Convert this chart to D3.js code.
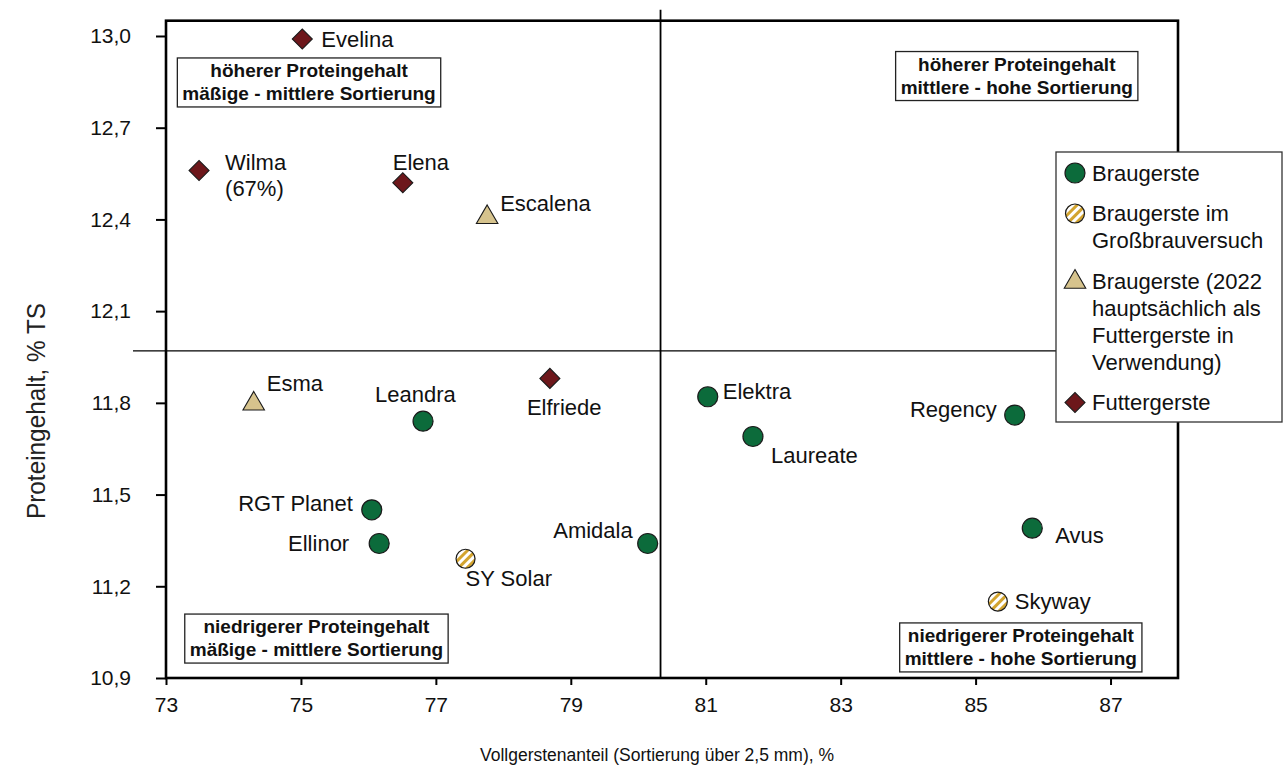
<!DOCTYPE html>
<html><head><meta charset="utf-8">
<script src="https://cdn.jsdelivr.net/npm/d3@7"></script>
<style>
body{margin:0;background:#fff}
svg{display:block;font-family:"Liberation Sans",Arial,Helvetica,sans-serif}
</style>
</head><body>
<svg id="chart" width="1283" height="767"></svg>
<script>
// ---------------- DATA ----------------
const varieties = ["Evelina","Wilma","Elena","Escalena","Esma","Elfriede","Leandra","RGT Planet","Ellinor","SY Solar","Amidala","Elektra","Laureate","Regency","Avus","Skyway"];
const sortierung = [75.02, 73.49, 76.51, 77.76, 74.30, 78.69, 76.81, 76.05, 76.16, 77.44, 80.14, 81.03, 81.70, 85.58, 85.84, 85.33];
const protein    = [12.99, 12.56, 12.52, 12.41, 11.80, 11.88, 11.74, 11.45, 11.34, 11.29, 11.34, 11.82, 11.69, 11.76, 11.39, 11.15];
const groups     = ["futter","futter","futter","brau2022","brau2022","futter","brau","brau","brau","gross","brau","brau","brau","brau","brau","gross"];
const labelLines = {"Wilma":["Wilma","(67%)"]};
const xTicks = [73, 75, 77, 79, 81, 83, 85, 87];
const yTicks = [10.9, 11.2, 11.5, 11.8, 12.1, 12.4, 12.7, 13.0];
const meanSortierung = 80.33;
const meanProtein = 11.97;
const legendGroups = ["brau","gross","brau2022","futter"];
const legendTexts = [["Braugerste"],["Braugerste im","Großbrauversuch"],["Braugerste (2022","hauptsächlich als","Futtergerste in","Verwendung)"],["Futtergerste"]];
const quadrantTexts = [["höherer Proteingehalt","mäßige - mittlere Sortierung"],["höherer Proteingehalt","mittlere - hohe Sortierung"],["niedrigerer Proteingehalt","mäßige - mittlere Sortierung"],["niedrigerer Proteingehalt","mittlere - hohe Sortierung"]];
const quadrantX = [75.12, 85.61, 75.23, 85.67];
const quadrantY = [12.848, 12.869, 11.029, 11.0];
const xTitle = "Vollgerstenanteil (Sortierung über 2,5 mm), %";
const yTitle = "Proteingehalt, % TS";

// ---------------- LAYOUT / STYLE ----------------
// label offsets (pixels relative to marker): [dx, dy, anchor]
const labelOffsets = {
  "Evelina":[19,0,"start"], "Wilma":[26,-8,"start"], "Elena":[-10,-20,"start"],
  "Escalena":[13,-13,"start"], "Esma":[13,-20,"start"], "Elfriede":[-23,29,"start"],
  "Leandra":[-48,-27,"start"], "RGT Planet":[-19,-7,"end"], "Ellinor":[-30,0,"end"],
  "SY Solar":[0,20,"start"], "Amidala":[-15,-13,"end"], "Elektra":[15,-5,"start"],
  "Laureate":[18,19,"start"], "Regency":[-18,-6,"end"], "Avus":[23,7,"start"],
  "Skyway":[17,0,"start"]
};
const colors = {brau:"#0c6b3b", gold:"#d3a42e", tan:"#d6c38d", futter:"#6d171b", stroke:"#1a1a1a"};

const svg = d3.select("#chart");
const x = d3.scaleLinear().domain([73, 88]).range([166, 1178]);
const y = d3.scaleLinear().domain([10.9, 13.05]).range([678, 20.7]);

// hatch pattern
const defs = svg.append("defs");
const pat = defs.append("pattern").attr("id","hatch").attr("patternUnits","userSpaceOnUse")
  .attr("width",6).attr("height",6).attr("patternTransform","rotate(45)");
pat.append("rect").attr("width",6).attr("height",6).attr("fill","#fff");
pat.append("rect").attr("x",0).attr("width",3).attr("height",6).attr("fill",colors.gold);

// mean lines
svg.append("line").attr("x1",x(meanSortierung)).attr("x2",x(meanSortierung))
  .attr("y1",y.range()[1]-11).attr("y2",y.range()[0]).attr("stroke","#000").attr("stroke-width",1.8);
svg.append("line").attr("x1",x.range()[0]-33).attr("x2",x.range()[1])
  .attr("y1",y(meanProtein)).attr("y2",y(meanProtein)).attr("stroke","#000").attr("stroke-width",1.1);

// axes
const fmt = d => d.toFixed(1).replace(".", ",");
const gx = svg.append("g").attr("transform",`translate(0,${y.range()[0]})`)
  .call(d3.axisBottom(x).tickValues(xTicks).tickSize(7).tickPadding(12).tickFormat(d3.format("d")));
const gy = svg.append("g").attr("transform",`translate(${x.range()[0]},0)`)
  .call(d3.axisLeft(y).tickValues(yTicks).tickSize(10).tickPadding(25).tickFormat(fmt));
[gx, gy].forEach(g => {
  g.select(".domain").remove();
  g.selectAll(".tick line").attr("stroke","#000").attr("stroke-width",2);
  g.selectAll(".tick text").attr("fill","#111").style("font-size","21px").style("font-family","'Liberation Sans',Arial,sans-serif");
});

// frame
svg.append("rect").attr("x",x.range()[0]).attr("y",y.range()[1])
  .attr("width",x.range()[1]-x.range()[0]).attr("height",y.range()[0]-y.range()[1])
  .attr("fill","none").attr("stroke","#000").attr("stroke-width",2.6);

// quadrant boxes
quadrantTexts.forEach((lines,i) => {
  const g = svg.append("g").attr("transform",`translate(${x(quadrantX[i])},${y(quadrantY[i])})`);
  const rect = g.append("rect");
  const texts = lines.map((t,j) => g.append("text").attr("x",0).attr("y",-24.5+19+j*23)
    .attr("text-anchor","middle").attr("font-weight","bold").style("font-size","19px").attr("fill","#111").text(t));
  const w = d3.max(texts, t => t.node().getComputedTextLength()) + 10;
  rect.attr("x",-w/2).attr("y",-24.5).attr("width",w).attr("height",49)
    .attr("fill","#fff").attr("stroke","#222").attr("stroke-width",1.3);
});

// markers
function drawMarker(g, grp) {
  if (grp === "brau") g.append("circle").attr("r",10).attr("fill",colors.brau).attr("stroke",colors.stroke).attr("stroke-width",1.2);
  else if (grp === "gross") g.append("circle").attr("r",9.5).attr("fill","url(#hatch)").attr("stroke",colors.stroke).attr("stroke-width",1.2);
  else if (grp === "brau2022") g.append("path").attr("d",d3.symbol(d3.symbolTriangle,200)()).attr("transform","translate(0,1)")
      .attr("fill",colors.tan).attr("stroke",colors.stroke).attr("stroke-width",1.1);
  else g.append("path").attr("d",d3.symbol(d3.symbolSquare,200)()).attr("transform","rotate(45)")
      .attr("fill",colors.futter).attr("stroke",colors.stroke).attr("stroke-width",1.1);
}
varieties.forEach((name,i) => {
  const g = svg.append("g").attr("transform",`translate(${x(sortierung[i])},${y(protein[i])})`);
  drawMarker(g, groups[i]);
  const [dx,dy,anchor] = labelOffsets[name];
  const lines = labelLines[name] || [name];
  lines.forEach((t,j) => g.append("text").attr("x",dx).attr("y",dy + j*26).attr("dy","0.35em")
    .attr("text-anchor",anchor).style("font-size","22px").attr("fill","#111").text(t));
});

// legend
const lg = svg.append("g");
lg.append("rect").attr("x",1056).attr("y",152).attr("width",226).attr("height",270)
  .attr("fill","#fff").attr("stroke","#333").attr("stroke-width",1.3);
let ly = 173;
legendGroups.forEach((grp,i) => {
  const g = lg.append("g").attr("transform",`translate(1075,${ly})`);
  drawMarker(g, grp);
  legendTexts[i].forEach((t,j) => lg.append("text").attr("x",1092).attr("y",ly + j*27).attr("dy","0.35em")
    .style("font-size","22px").attr("fill","#111").text(t));
  ly += (legendTexts[i].length-1)*27 + 40.5;
});

// axis titles
svg.append("text").attr("x",657).attr("y",761).attr("text-anchor","middle")
  .style("font-size","17.5px").attr("fill","#111").text(xTitle);
svg.append("text").attr("transform","translate(45,411) rotate(-90)").attr("text-anchor","middle")
  .attr("textLength",216).attr("lengthAdjust","spacingAndGlyphs")
  .style("font-size","26px").style("font-weight","300").attr("fill","#222").text(yTitle);
</script>
</body></html>
